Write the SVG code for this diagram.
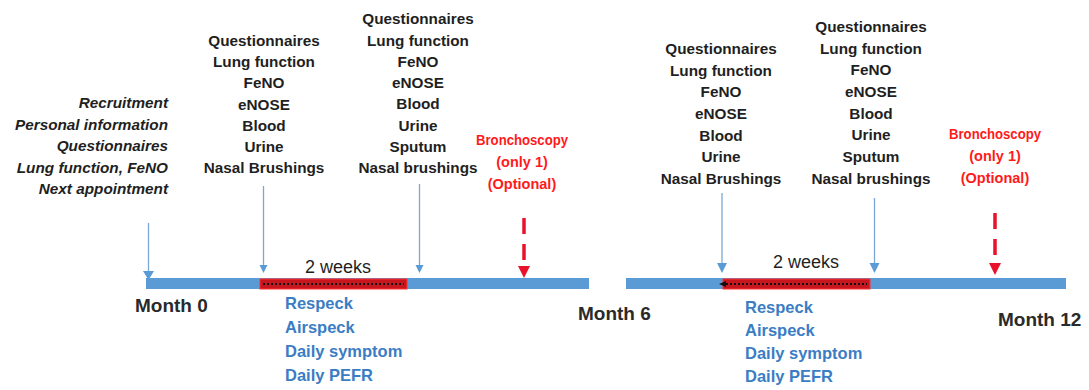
<svg xmlns="http://www.w3.org/2000/svg" width="1089" height="390" viewBox="0 0 1089 390">
<defs>
<style>
.t{font-family:"Liberation Sans",Arial,sans-serif;font-weight:bold;font-size:15.3px;fill:#1f1f1f;text-anchor:middle}
.i{font-family:"Liberation Sans",Arial,sans-serif;font-weight:bold;font-style:italic;font-size:15.3px;fill:#1f1f1f;text-anchor:end}
.r{font-family:"Liberation Sans",Arial,sans-serif;font-weight:bold;font-size:14.5px;fill:#ff1a1a;text-anchor:middle}
.b{font-family:"Liberation Sans",Arial,sans-serif;font-weight:bold;font-size:16.5px;fill:#3b7dc4}
.m{font-family:"Liberation Sans",Arial,sans-serif;font-weight:bold;font-size:19px;fill:#2a2a2a}
.w{font-family:"Liberation Sans",Arial,sans-serif;font-size:18px;fill:#1f1f1f;text-anchor:middle}
.bar{fill:#5b9bd5}
.arr{stroke:#7aa7d6;stroke-width:1.3;fill:none}
.red{stroke:#e8132b;stroke-width:3.5;fill:none;stroke-dasharray:16 10}
.hatch{fill:#c8161e;stroke:#ff3030;stroke-width:1}
.dash{stroke:#111;stroke-width:2;stroke-dasharray:2 2}
</style>
</defs>

<g id="timeline">
<rect class="bar" x="146" y="278" width="443" height="11"/>
<rect class="bar" x="626" y="278" width="440" height="11"/>
</g>

<g id="period1">
<rect class="hatch" x="260" y="279" width="147" height="10"/>
<line class="dash" x1="263" y1="284" x2="404" y2="284"/>
<text class="w" x="338" y="273">2 weeks</text>
</g>
<g id="period2">
<rect class="hatch" x="723" y="279" width="147" height="10"/>
<line class="dash" x1="726" y1="284" x2="867" y2="284"/>
<path d="M719,284 L726,281 L726,287 Z" fill="#111"/>
<text class="w" x="806" y="268">2 weeks</text>
</g>

<g id="connectors">
<line class="arr" x1="148.5" y1="223" x2="148.5" y2="272"/>
<path d="M143,271 L154,271 L148.5,280 Z" fill="#5b9bd5"/>
<line class="arr" x1="263.5" y1="186" x2="263.5" y2="266"/>
<path d="M259.5,265 L267.5,265 L263.5,273 Z" fill="#5b9bd5"/>
<line class="arr" x1="419.5" y1="184" x2="419.5" y2="266"/>
<path d="M415.5,265 L423.5,265 L419.5,273 Z" fill="#5b9bd5"/>
<line class="arr" x1="722" y1="193" x2="722" y2="264"/>
<path d="M717,263 L727,263 L722,273 Z" fill="#5b9bd5"/>
<line class="arr" x1="874.5" y1="198" x2="874.5" y2="264"/>
<path d="M869.5,263 L879.5,263 L874.5,273 Z" fill="#5b9bd5"/>
<line class="red" x1="524" y1="218" x2="524" y2="266"/>
<path d="M518,266 L530,266 L524,278 Z" fill="#e8132b"/>
<line class="red" x1="995" y1="213" x2="995" y2="263"/>
<path d="M989,263 L1001,263 L995,275 Z" fill="#e8132b"/>
</g>

<g id="recruitment">
<text class="i" x="168" y="108">Recruitment</text>
<text class="i" x="168" y="129.5">Personal information</text>
<text class="i" x="168" y="151">Questionnaires</text>
<text class="i" x="168" y="172.5">Lung function, FeNO</text>
<text class="i" x="168" y="194">Next appointment</text>
</g>

<g id="visit1">
<text class="t" x="264" y="46">Questionnaires</text>
<text class="t" x="264" y="67">Lung function</text>
<text class="t" x="264" y="88">FeNO</text>
<text class="t" x="264" y="109.5">eNOSE</text>
<text class="t" x="264" y="131">Blood</text>
<text class="t" x="264" y="152">Urine</text>
<text class="t" x="264" y="173">Nasal Brushings</text>
</g>

<g id="visit2">
<text class="t" x="418" y="24">Questionnaires</text>
<text class="t" x="418" y="45.5">Lung function</text>
<text class="t" x="418" y="66.5">FeNO</text>
<text class="t" x="418" y="88">eNOSE</text>
<text class="t" x="418" y="109">Blood</text>
<text class="t" x="418" y="130.5">Urine</text>
<text class="t" x="418" y="152">Sputum</text>
<text class="t" x="418" y="173">Nasal brushings</text>
</g>

<g id="bronch1">
<text class="r" x="522" y="145" textLength="92" lengthAdjust="spacingAndGlyphs">Bronchoscopy</text>
<text class="r" x="522" y="167">(only 1)</text>
<text class="r" x="522" y="189">(Optional)</text>
</g>

<g id="visit3">
<text class="t" x="721" y="54">Questionnaires</text>
<text class="t" x="721" y="75.5">Lung function</text>
<text class="t" x="721" y="97">FeNO</text>
<text class="t" x="721" y="119">eNOSE</text>
<text class="t" x="721" y="140.5">Blood</text>
<text class="t" x="721" y="162">Urine</text>
<text class="t" x="721" y="184">Nasal Brushings</text>
</g>

<g id="visit4">
<text class="t" x="871" y="32">Questionnaires</text>
<text class="t" x="871" y="53.5">Lung function</text>
<text class="t" x="871" y="75">FeNO</text>
<text class="t" x="871" y="97">eNOSE</text>
<text class="t" x="871" y="118.5">Blood</text>
<text class="t" x="871" y="140">Urine</text>
<text class="t" x="871" y="162">Sputum</text>
<text class="t" x="871" y="184">Nasal brushings</text>
</g>

<g id="bronch2">
<text class="r" x="995" y="139" textLength="92" lengthAdjust="spacingAndGlyphs">Bronchoscopy</text>
<text class="r" x="995" y="161">(only 1)</text>
<text class="r" x="995" y="183">(Optional)</text>
</g>

<g id="devices1">
<text class="b" x="285" y="309">Respeck</text>
<text class="b" x="285" y="333">Airspeck</text>
<text class="b" x="285" y="357">Daily symptom</text>
<text class="b" x="285" y="381">Daily PEFR</text>
</g>
<g id="devices2">
<text class="b" x="745" y="313">Respeck</text>
<text class="b" x="745" y="336">Airspeck</text>
<text class="b" x="745" y="359">Daily symptom</text>
<text class="b" x="745" y="382">Daily PEFR</text>
</g>

<g id="months">
<text class="m" x="135" y="312">Month 0</text>
<text class="m" x="578" y="320">Month 6</text>
<text class="m" x="998" y="326">Month 12</text>
</g>
</svg>
